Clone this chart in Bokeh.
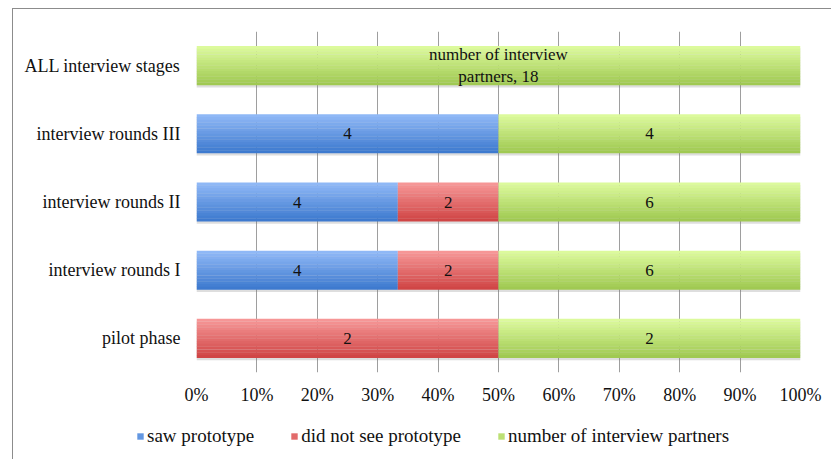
from bokeh.plotting import figure
from bokeh.layouts import column
from bokeh.models import (ColumnDataSource, FixedTicker, NumeralTickFormatter,
                          Legend, LegendItem, Range1d)
from bokeh.core.properties import value
from bokeh.embed import file_html
from bokeh.resources import INLINE

# Interview stages, listed bottom to top
categories = ["pilot phase", "interview rounds I", "interview rounds II",
              "interview rounds III", "ALL interview stages"]

# Number of people per group at each stage
saw_prototype = [0, 4, 4, 4, 0]
did_not_see = [2, 2, 2, 0, 0]
interview_partners = [2, 6, 6, 4, 18]

series_names = ["saw prototype", "did not see prototype", "number of interview partners"]
x_ticks = [0.0, 0.1, 0.2, 0.3, 0.4, 0.5, 0.6, 0.7, 0.8, 0.9, 1.0]

FONT = "Liberation Serif"
BAR_H = 0.57
N_STRIPS = 14

# top / bottom colours for the vertical gradient of each series
gradients = [
    ((143, 184, 246), (62, 122, 207)),
    ((246, 150, 150), (208, 70, 70)),
    ((220, 250, 156), (160, 201, 82)),
]

y_centers = [i + 0.5 for i in range(len(categories))]

# 100% stacked shares
series = [saw_prototype, did_not_see, interview_partners]
totals = [sum(s[i] for s in series) for i in range(len(categories))]
lefts, rights = [], []
for k, s in enumerate(series):
    l, r = [], []
    for i in range(len(categories)):
        start = sum(series[j][i] for j in range(k)) / totals[i]
        l.append(start)
        r.append(start + s[i] / totals[i])
    lefts.append(l)
    rights.append(r)

p = figure(width=818, height=410, output_backend="svg", toolbar_location=None,
           x_range=Range1d(0, 1), y_range=Range1d(0, len(categories)),
           min_border_left=183, min_border_right=31, min_border_top=22,
           min_border_bottom=47)
p.frame_align = False
p.outline_line_color = None
p.background_fill_color = "white"

# axes
p.xaxis.ticker = FixedTicker(ticks=x_ticks)
p.xaxis.formatter = NumeralTickFormatter(format="0%")
p.yaxis.ticker = FixedTicker(ticks=y_centers)
p.yaxis.major_label_overrides = {y: c for y, c in zip(y_centers, categories)}
for ax in (p.xaxis[0], p.yaxis[0]):
    ax.axis_line_color = None
    ax.major_tick_line_color = None
    ax.minor_tick_line_color = None
    ax.major_label_text_font = FONT
    ax.major_label_text_font_size = "18px"
    ax.major_label_text_color = "#111111"
p.xaxis.major_label_standoff = 6
p.yaxis.major_label_standoff = 10

p.xgrid.ticker = FixedTicker(ticks=x_ticks)
p.xgrid.grid_line_color = "#9e9e9e"
p.xgrid.grid_line_width = 1
p.ygrid.grid_line_color = None

# soft shadow under each row of bars
p.hbar(y=[y - 0.035 for y in y_centers], left=0, right=1, height=BAR_H,
       fill_color="#7a7a7a", fill_alpha=0.25, line_color=None)

# gradient-filled stacked bars, drawn as thin horizontal strips
strip_h = BAR_H / N_STRIPS
mid_colors = []
for k in range(len(series)):
    top, bot = gradients[k]
    for s in range(N_STRIPS):
        t = s / (N_STRIPS - 1)
        c = tuple(int(round(top[j] + (bot[j] - top[j]) * t)) for j in range(3))
        color = "#%02x%02x%02x" % c
        ys = [y + BAR_H / 2 - (s + 0.5) * strip_h for y in y_centers]
        src = ColumnDataSource(dict(y=ys, left=lefts[k], right=rights[k]))
        p.hbar(y="y", left="left", right="right", height=strip_h * 1.08,
               source=src, fill_color=color, line_color=None)
        if s == N_STRIPS // 2:
            mid_colors.append(color)

# value labels in each segment
lx, ly, lt = [], [], []
for k in range(len(series)):
    for i in range(len(categories)):
        v = series[k][i]
        if v == 0:
            continue
        lx.append((lefts[k][i] + rights[k][i]) / 2)
        ly.append(y_centers[i])
        if totals[i] == v and k == 2:
            lt.append("number of interview\npartners, %d" % v)
        else:
            lt.append(str(v))
p.text(x=lx, y=ly, text=lt, text_align="center", text_baseline="middle",
       text_font=value(FONT), text_font_size="17px", text_color="#111111",
       text_line_height=1.15)

# legend strip underneath the chart
lf = figure(width=818, height=40, output_backend="svg", toolbar_location=None,
            x_range=Range1d(0, 1), y_range=Range1d(0, 1),
            min_border=0, x_axis_location=None, y_axis_location=None)
lf.frame_align = False
lf.outline_line_color = None
lf.xgrid.visible = False
lf.ygrid.visible = False
legend_renderers = []
for name, color in zip(series_names, mid_colors):
    # legend proxy kept outside the visible range
    r = lf.hbar(y=[-5], left=[0], right=[1], height=0.5,
                fill_color=color, line_color=None)
    legend_renderers.append(r)
legend = Legend(
    items=[LegendItem(label=n, renderers=[r]) for n, r in zip(series_names, legend_renderers)],
    orientation="horizontal", location=(123, 12),
    glyph_width=8, glyph_height=8, label_standoff=3, spacing=36,
    padding=0, margin=0, border_line_color=None, background_fill_alpha=0,
    label_text_font=FONT, label_text_font_size="19px", label_text_color="#111111",
)
lf.add_layout(legend, "center")

layout = column(p, lf, spacing=0)
layout.styles = {"margin-left": "12px", "margin-top": "8px",
                 "border-left": "1px solid #8c8c8c", "border-top": "1px solid #8c8c8c"}

open("out.html", "w").write(file_html(layout, INLINE))
